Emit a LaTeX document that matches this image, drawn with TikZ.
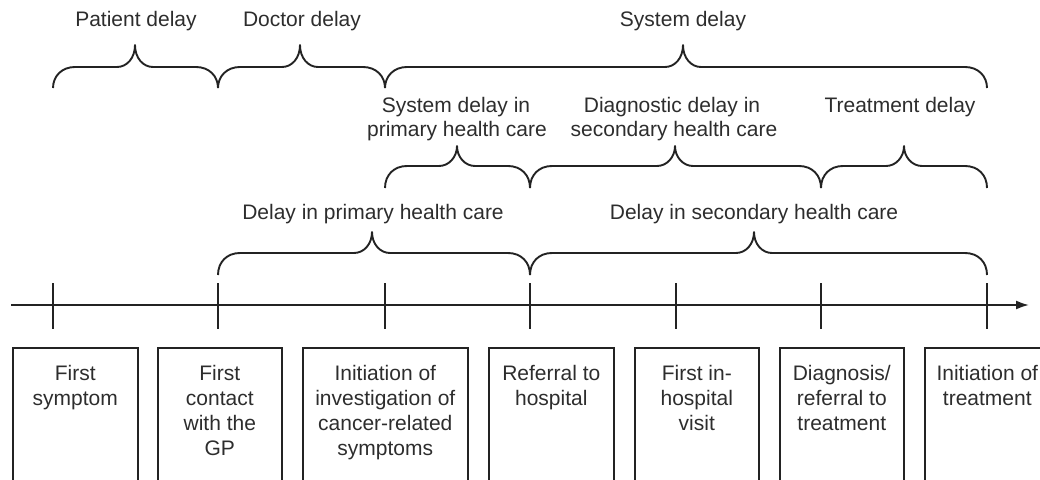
\documentclass[tikz,border=0pt]{standalone}
\usepackage{fontspec}
\setmainfont{Liberation Sans}
\usetikzlibrary{arrows.meta}
\definecolor{ink}{RGB}{35,35,35}
\definecolor{txt}{RGB}{45,45,45}
\newcommand\delaybrace[6]{% x1, xm, x2, ybottom, yhoriz, ytip
  \draw[bracestyle] (#1,#4) .. controls (#1,#5+9) and (#1+9,#5) .. (#1+22,#5)
    -- (#2-18,#5) .. controls (#2-8,#5) and (#2,#5-9) .. (#2,#6)
    .. controls (#2,#5-9) and (#2+8,#5) .. (#2+18,#5)
    -- (#3-22,#5) .. controls (#3-9,#5) and (#3,#5+9) .. (#3,#4);}
\tikzset{
  bracestyle/.style={draw=ink, line width=1.9pt, line join=round},
  lbl/.style={text=txt, font=\fontsize{21}{25}\selectfont, align=center, inner sep=0pt},
  box/.style={draw=ink, line width=1.6pt, minimum height=150pt, inner sep=0pt, anchor=north west},
  boxtext/.style={text=txt, font=\fontsize{21}{25}\selectfont, align=center, inner sep=0pt, anchor=north},
  tick/.style={draw=ink, line width=1.9pt},
}
\begin{document}
\begin{tikzpicture}[x=1pt, y=-1pt]
\useasboundingbox (0,0) rectangle (1040,479);
\clip (0,0) rectangle (1040,479);
% timeline
\coordinate (start) at (11,305);
\coordinate (end) at (1029,305);
\draw[ink, line width=1.9pt, -{Latex[length=13pt,width=9pt]}] (start) -- (end);
\foreach \n/\x in {1/53,2/218,3/385,4/530,5/676,6/821,7/987}{
  \coordinate (t\n) at (\x,305);
  \draw[tick] (\x,283) -- (\x,329);
}
% row 1
\delaybrace{53}{135}{218}{88}{67}{45}
\delaybrace{218}{300}{385}{88}{67}{45}
\delaybrace{385}{683}{987}{88}{67}{45}
\node[lbl, anchor=base] (pd) at (136,27) {Patient delay};
\node[lbl, anchor=base] (dd) at (302,27) {Doctor delay};
\node[lbl, anchor=base] (sd) at (683,27) {System delay};
% row 2
\delaybrace{385}{457}{530}{188}{166}{146}
\delaybrace{530}{675}{821}{188}{166}{146}
\delaybrace{821}{904}{987}{188}{166}{146}
\node[lbl, anchor=base] (sp1) at (456,112) {System delay in};
\node[lbl, anchor=base] (sp2) at (457,136) {primary health care};
\node[lbl, anchor=base] (ds1) at (672,112) {Diagnostic delay in};
\node[lbl, anchor=base] (ds2) at (674,136) {secondary health care};
\node[lbl, anchor=base] (td) at (900,112) {Treatment delay};
% row 3
\delaybrace{218}{372}{530}{275}{253}{232}
\delaybrace{530}{754}{987}{275}{253}{232}
\node[lbl, anchor=base] (dp) at (373,219) {Delay in primary health care};
\node[lbl, anchor=base] (dsc) at (754,219) {Delay in secondary health care};
% boxes
\node[box, minimum width=125pt] (b1) at (12,347) {};
\node[box, minimum width=124pt] (b2) at (157,347) {};
\node[box, minimum width=165pt] (b3) at (302,347) {};
\node[box, minimum width=125pt] (b4) at (488,347) {};
\node[box, minimum width=124pt] (b5) at (634,347) {};
\node[box, minimum width=124pt] (b6) at (779,347) {};
\node[box, minimum width=125pt] (b7) at (924,347) {};
\node[boxtext] (l1) at ([yshift=-18pt]b1.north) {First\\symptom};
\node[boxtext] (l2) at ([yshift=-18pt]b2.north) {First\\contact\\with the\\GP};
\node[boxtext] (l3) at ([yshift=-18pt]b3.north) {Initiation of\\investigation of\\cancer-related\\symptoms};
\node[boxtext] (l4) at ([yshift=-18pt]b4.north) {Referral to\\hospital};
\node[boxtext] (l5) at ([yshift=-18pt]b5.north) {First in-\\hospital\\visit};
\node[boxtext] (l6) at ([yshift=-18pt]b6.north) {Diagnosis/\\referral to\\treatment};
\node[boxtext] (l7) at ([yshift=-18pt]b7.north) {Initiation of\\treatment};
\end{tikzpicture}
\end{document}
